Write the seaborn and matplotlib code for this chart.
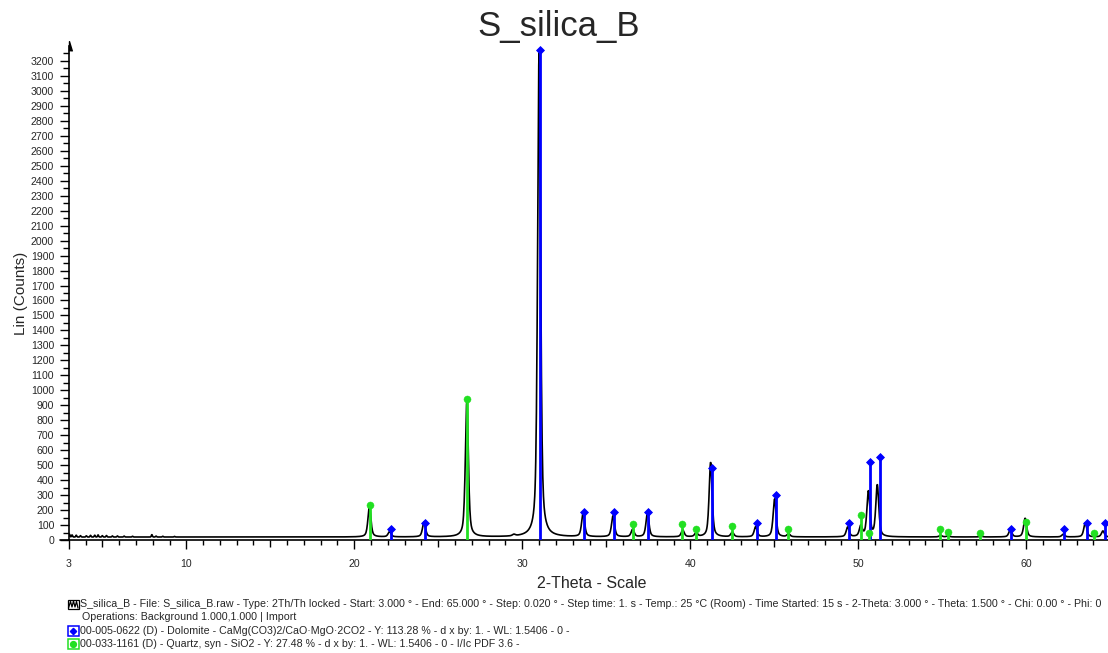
import numpy as np
import pandas as pd
import matplotlib
matplotlib.use("Agg")
import matplotlib.pyplot as plt
from matplotlib.patches import Rectangle
from matplotlib.lines import Line2D
from matplotlib.ticker import FixedLocator, NullFormatter
import seaborn as sns

# ---------------------------------------------------------------- data
sample_name = "S_silica_B"

# Scan settings (2Th/Th locked)
scan_start, scan_end, scan_step = 3.0, 65.0, 0.02
background_level = 20.0

# Reflections of the measured pattern: position (deg 2-theta) and net height (counts)
peak_pos = [20.90, 22.10, 24.15, 26.70, 29.50, 31.00, 33.62, 35.40, 36.57, 37.45,
            39.55, 40.35, 41.21, 42.50, 43.89, 45.02, 45.85, 49.37, 50.15, 50.60,
            51.13, 54.90, 55.35, 57.30, 59.05, 59.93, 62.20, 63.51, 64.56]
peak_height = [205, 35, 100, 910, 10, 3250, 160, 140, 50, 160,
               45, 25, 500, 30, 67, 254, 20, 65, 70, 300,
               345, 10, 8, 5, 49, 125, 18, 95, 40]
peak_fwhm = 0.21
peak_eta = 0.55

# Counting noise spikes at low angle
noise_pos = [3.05, 3.20, 3.45, 3.70, 4.05, 4.30, 4.55, 4.75, 5.00, 5.25,
             5.60, 5.90, 6.30, 6.80, 7.95, 8.20, 8.60, 9.30]
noise_height = [18, 14, 12, 9, 8, 11, 12, 14, 9, 10, 7, 7, 6, 5, 16, 6, 5, 4]
noise_width = 0.03

# Reference patterns (stick positions and scaled intensities)
dolomite_pos = [22.18, 24.21, 31.05, 33.67, 35.44, 37.50, 41.31, 43.95, 45.08,
                49.43, 50.71, 51.31, 59.09, 62.23, 63.61, 64.67]
dolomite_int = [73, 113, 3270, 187, 187, 187, 483, 113, 300,
                113, 520, 557, 73, 73, 113, 113]
quartz_pos = [20.93, 26.73, 36.57, 39.51, 40.32, 42.50, 45.83, 50.16, 50.64,
              54.88, 55.36, 57.26, 59.98, 64.01]
quartz_int = [236, 940, 109, 109, 73, 92, 73, 167, 47,
              73, 55, 47, 120, 47]

x_major = [3, 10, 20, 30, 40, 50, 60]
y_major = list(range(0, 3201, 100))

scan_info = ("S_silica_B - File: S_silica_B.raw - Type: 2Th/Th locked - Start: 3.000 \u00b0 - "
             "End: 65.000 \u00b0 - Step: 0.020 \u00b0 - Step time: 1. s - Temp.: 25 \u00b0C (Room) - "
             "Time Started: 15 s - 2-Theta: 3.000 \u00b0 - Theta: 1.500 \u00b0 - Chi: 0.00 \u00b0 - Phi: 0")
ops_info = "Operations: Background 1.000,1.000 | Import"
dolomite_info = ("00-005-0622 (D) - Dolomite - CaMg(CO3)2/CaO\u00b7MgO\u00b72CO2 - Y: 113.28 % - "
                 "d x by: 1. - WL: 1.5406 - 0 -")
quartz_info = ("00-033-1161 (D) - Quartz, syn - SiO2 - Y: 27.48 % - d x by: 1. - "
               "WL: 1.5406 - 0 - I/Ic PDF 3.6 -")

BLUE = "#0000ff"
GREEN = "#22e022"

# ---------------------------------------------------------------- profile
two_theta = np.arange(scan_start, scan_end + scan_step / 2, scan_step)
counts = np.full_like(two_theta, background_level)
hw = peak_fwhm / 2
for p, h in zip(peak_pos, peak_height):
    u = (two_theta - p) / hw
    counts += h * (peak_eta / (1 + u ** 2) + (1 - peak_eta) * np.exp(-np.log(2) * u ** 2))
for p, h in zip(noise_pos, noise_height):
    counts += h * np.exp(-0.5 * ((two_theta - p) / noise_width) ** 2)

scan = pd.DataFrame({"two_theta": two_theta, "counts": counts})
dol = pd.DataFrame({"pos": dolomite_pos, "int": dolomite_int})
qtz = pd.DataFrame({"pos": quartz_pos, "int": quartz_int})

# ---------------------------------------------------------------- figure
sns.set_style("white")
plt.rcParams["font.family"] = ["Liberation Sans", "DejaVu Sans"]

W, H = 1108, 653
fig = plt.figure(figsize=(W / 100, H / 100), dpi=100)
ax = fig.add_axes([68.7 / W, 113 / H, 1041.6 / W, 494 / H])
ax.set_facecolor("none")

sns.lineplot(data=scan, x="two_theta", y="counts", color="black", lw=1.2,
             estimator=None, sort=False, ax=ax, zorder=2)
ax.vlines(dol["pos"], 0, dol["int"], color=BLUE, lw=2.0, zorder=3)
ax.vlines(qtz["pos"], 0, qtz["int"], color=GREEN, lw=2.0, zorder=3)
sns.scatterplot(data=dol, x="pos", y="int", marker="D", s=16, color=BLUE,
                edgecolor=BLUE, linewidth=0.6, ax=ax, zorder=4, clip_on=False)
sns.scatterplot(data=qtz, x="pos", y="int", marker="o", s=26, color=GREEN,
                edgecolor=GREEN, linewidth=0.3, ax=ax, zorder=4, clip_on=False)

ax.set_xlim(scan_start, scan_end)
ax.set_ylim(0, 3300)
ax.set_xlabel("")
ax.set_ylabel("")

for side in ("top", "right"):
    ax.spines[side].set_visible(False)
for side in ("left", "bottom"):
    ax.spines[side].set_color("black")
    ax.spines[side].set_linewidth(1.2)

# y ticks: labelled every 100, minor every 50
ax.yaxis.set_major_locator(FixedLocator(y_major))
ax.yaxis.set_minor_locator(FixedLocator(np.arange(50, 3300, 100)))
ax.tick_params(axis="y", which="major", direction="out", length=6.5, width=1.0,
               labelsize=7.6, pad=4, color="black", left=True)
ax.tick_params(axis="y", which="minor", direction="out", length=4.0, width=1.0,
               color="black", left=True)

# x ticks: labelled every 10, minor every degree, medium every 5
ax.xaxis.set_major_locator(FixedLocator(x_major))
ax.xaxis.set_minor_locator(FixedLocator([v for v in range(4, 65) if v % 5 != 0]))
ax.xaxis.set_minor_formatter(NullFormatter())
ax.tick_params(axis="x", which="major", direction="out", length=6.5, width=1.0,
               labelsize=7.6, pad=7, color="black", bottom=True)
ax.tick_params(axis="x", which="minor", direction="out", length=3.3, width=1.0,
               color="black", bottom=True)
sec = ax.secondary_xaxis("bottom")
sec.set_xticks([5, 15, 25, 35, 45, 55])
sec.tick_params(direction="out", length=5.0, width=1.0, labelbottom=False, color="black")
sec.spines["bottom"].set_visible(False)

# axis arrow and extension of the baseline
ax.plot([0], [1], transform=ax.transAxes, marker=[(0, -1), (0, 1), (0.6, -1)],
        markersize=7, color="black", clip_on=False, zorder=5)
ax.add_line(Line2D([-0.0085, 0], [0, 0], transform=ax.transAxes, color="black",
                   lw=1.2, clip_on=False))

# titles
fig.text(559 / W, 1 - 36 / H, sample_name, ha="center", va="baseline", fontsize=25)
fig.text(21 / W, 1 - 293 / H, "Lin (Counts)", rotation=90, ha="center", va="center",
         fontsize=11)
fig.text(592 / W, 1 - 583 / H, "2-Theta - Scale", ha="center", va="center", fontsize=11.5)

# scan / phase information block
rows_y = [604.3, 617.3, 630.7, 644.0]
text_x = 80.5 / W
fs = 7.62
fig.text(text_x, 1 - rows_y[0] / H, scan_info, ha="left", va="center", fontsize=fs)
fig.text(text_x + 1 / W, 1 - rows_y[1] / H, ops_info, ha="left", va="center", fontsize=fs)
fig.text(text_x, 1 - rows_y[2] / H, dolomite_info, ha="left", va="center", fontsize=fs)
fig.text(text_x, 1 - rows_y[3] / H, quartz_info, ha="left", va="center", fontsize=fs)

# legend icons
ix0, iw = 67.5, 11
fig.add_artist(Rectangle((ix0 / W, 1 - (rows_y[0] + 4.5) / H), iw / W, 9 / H,
                         transform=fig.transFigure, fill=False, ec="black", lw=0.9))
zig_x = [68.5, 70.5, 72, 73.5, 75, 76.5, 78]
zig_y = [608, 601.5, 607, 601, 607, 601.5, 608]
fig.add_artist(Line2D([v / W for v in zig_x], [1 - v / H for v in zig_y],
                      transform=fig.transFigure, color="black", lw=0.9))
for row, col, mk, ms in ((2, BLUE, "D", 3.2), (3, GREEN, "o", 4.2)):
    yc = rows_y[row]
    fig.add_artist(Rectangle((ix0 / W, 1 - (yc + 5.2) / H), iw / W, 10.4 / H,
                             transform=fig.transFigure, fill=False, ec=col, lw=1.1))
    fig.add_artist(Line2D([(ix0 + iw / 2) / W], [1 - yc / H], transform=fig.transFigure,
                          marker=mk, markersize=ms, color=col, linestyle="none"))

fig.savefig("out.png", dpi=100)
